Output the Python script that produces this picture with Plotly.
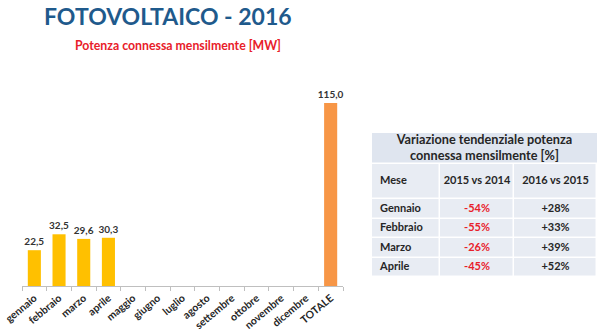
import plotly.graph_objects as go

categories = ["gennaio", "febbraio", "marzo", "aprile", "maggio", "giugno", "luglio",
              "agosto", "settembre", "ottobre", "novembre", "dicembre", "TOTALE"]
values = [22.5, 32.5, 29.6, 30.3, None, None, None, None, None, None, None, None, 115.0]
bar_colors = ["#FFC000"] * 12 + ["#F79646"]

table_title = "Variazione tendenziale potenza<br>connessa mensilmente [%]"
col_headers = ["Mese", "2015 vs 2014", "2016 vs 2015"]
mesi = ["Gennaio", "Febbraio", "Marzo", "Aprile"]
var_2015_2014 = ["-54%", "-55%", "-26%", "-45%"]
var_2016_2015 = ["+28%", "+33%", "+39%", "+52%"]

W, H = 600, 336
FONT = "Lato"
DARK = "#262626"
RED = "#E8202A"


def px_x(x):
    return x / W


def px_y(y):
    return 1 - y / H


fig = go.Figure()

# ---- bar chart ----
fig.add_trace(go.Bar(
    x=categories, y=values,
    marker=dict(color=bar_colors, line=dict(width=0)),
    width=0.53,
    texttemplate="%{y:.1f}", textposition="outside", cliponaxis=False,
    constraintext="none",
    textfont=dict(family=FONT, size=10, color="#333333", weight="bold"),
    hoverinfo="skip",
))

# ---- table (drawn on its own axes: units = pixels of the table box) ----
tbl_w = 225
title_h, head_h, row_h = 31, 35, 19.5
col_edges = [0, 68, 142, tbl_w]
n_rows = len(mesi)
row_edges = [title_h, title_h + head_h] + [title_h + head_h + row_h * (i + 1) for i in range(n_rows)]
tbl_h = row_edges[-1]
col_centers = [(col_edges[i] + col_edges[i + 1]) / 2 for i in range(3)]
row_centers = [(row_edges[i] + row_edges[i + 1]) / 2 for i in range(len(row_edges) - 1)]

TITLE_BG = "#DFE5EF"
CELL_BG = "#E8ECF3"

fig.add_trace(go.Heatmap(
    x=[0, tbl_w], y=[0, title_h], z=[[1]],
    colorscale=[[0, TITLE_BG], [1, TITLE_BG]], zmin=0, zmax=1,
    showscale=False, ygap=1.5, hoverinfo="skip",
    xaxis="x2", yaxis="y2",
))
fig.add_trace(go.Heatmap(
    x=col_edges, y=row_edges,
    z=[[1, 1, 1] for _ in range(len(row_edges) - 1)],
    colorscale=[[0, CELL_BG], [1, CELL_BG]], zmin=0, zmax=1,
    showscale=False, xgap=1.5, ygap=1.5, hoverinfo="skip",
    xaxis="x2", yaxis="y2",
))

# title text
fig.add_trace(go.Scatter(
    x=[tbl_w / 2], y=[title_h / 2 + 0.5], mode="text",
    text=["<b>" + table_title + "</b>"], textposition="middle center",
    textfont=dict(family=FONT, size=12.7, color=DARK),
    hoverinfo="skip", xaxis="x2", yaxis="y2",
))
# header row
fig.add_trace(go.Scatter(
    x=[8], y=[row_centers[0]], mode="text",
    text=["<b>" + col_headers[0] + "</b>"], textposition="middle right",
    textfont=dict(family=FONT, size=11, color=DARK),
    hoverinfo="skip", xaxis="x2", yaxis="y2",
))
fig.add_trace(go.Scatter(
    x=col_centers[1:], y=[row_centers[0]] * 2, mode="text",
    text=["<b>" + h + "</b>" for h in col_headers[1:]], textposition="middle center",
    textfont=dict(family=FONT, size=11, color=DARK),
    hoverinfo="skip", xaxis="x2", yaxis="y2",
))
# body
fig.add_trace(go.Scatter(
    x=[8] * n_rows, y=row_centers[1:], mode="text",
    text=["<b>" + m + "</b>" for m in mesi], textposition="middle right",
    textfont=dict(family=FONT, size=11, color=DARK),
    hoverinfo="skip", xaxis="x2", yaxis="y2",
))
fig.add_trace(go.Scatter(
    x=[col_centers[1]] * n_rows, y=row_centers[1:], mode="text",
    text=["<b>" + v + "</b>" for v in var_2015_2014], textposition="middle center",
    textfont=dict(family=FONT, size=11, color=RED),
    hoverinfo="skip", xaxis="x2", yaxis="y2",
))
fig.add_trace(go.Scatter(
    x=[col_centers[2]] * n_rows, y=row_centers[1:], mode="text",
    text=["<b>" + v + "</b>" for v in var_2016_2015], textposition="middle center",
    textfont=dict(family=FONT, size=11, color=DARK),
    hoverinfo="skip", xaxis="x2", yaxis="y2",
))

# ---- titles ----
fig.add_annotation(xref="paper", yref="paper", x=px_x(42), y=px_y(16),
                   text="<b>FOTOVOLTAICO - 2016</b>", showarrow=False,
                   font=dict(family=FONT, size=23, color="#1F5A8C"),
                   xanchor="left", yanchor="middle", align="left")
fig.add_annotation(xref="paper", yref="paper", x=px_x(73), y=px_y(46),
                   text="<b>Potenza connessa mensilmente [MW]</b>", showarrow=False,
                   font=dict(family=FONT, size=12.3, color=RED),
                   xanchor="left", yanchor="middle", align="left")

fig.update_layout(
    width=W, height=H,
    margin=dict(l=0, r=0, t=0, b=0, autoexpand=False),
    paper_bgcolor="white", plot_bgcolor="white",
    separators=",.",
    showlegend=False,
    bargap=0.47,
    xaxis=dict(
        domain=[px_x(22), px_x(343)],
        range=[-0.5, 12.5],
        automargin=False,
        showline=True, linecolor="#BFBFBF", linewidth=1,
        ticks="outside", tickson="boundaries", ticklen=4, tickcolor="#BFBFBF",
        tickangle=-40, ticklabelstandoff=1,
        tickfont=dict(family=FONT, size=10.5, color=DARK, weight="bold"),
        showgrid=False, fixedrange=True,
    ),
    yaxis=dict(
        domain=[px_y(286), px_y(90)],
        range=[0, 115 * 196 / 183],
        automargin=False,
        visible=False, showgrid=False, fixedrange=True,
    ),
    xaxis2=dict(
        domain=[px_x(372), px_x(372 + tbl_w)], range=[0, tbl_w],
        automargin=False,
        visible=False, showgrid=False, zeroline=False, fixedrange=True,
        anchor="y2",
    ),
    yaxis2=dict(
        domain=[px_y(133 + tbl_h), px_y(133)], range=[tbl_h, 0],
        automargin=False,
        visible=False, showgrid=False, zeroline=False, fixedrange=True,
        anchor="x2",
    ),
)

fig.write_html("out.html")
